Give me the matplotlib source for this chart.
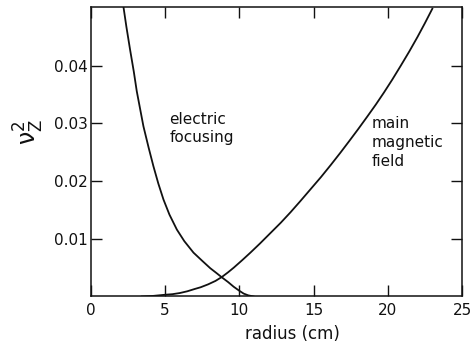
import matplotlib
matplotlib.use("Agg")
import matplotlib.pyplot as plt

# electric focusing contribution to nu_z^2 vs radius
r_elec = [2.2, 2.4, 2.65, 2.9, 3.1, 3.35, 3.55, 3.9, 4.22, 4.55, 4.9, 5.3,
          5.8, 6.3, 6.92, 7.5, 8.05, 8.45, 8.84, 9.25, 9.62, 10.0, 10.3,
          10.6, 10.97]
v_elec = [0.0503, 0.0468, 0.0428, 0.039, 0.0356, 0.0322, 0.0295, 0.0258,
          0.0226, 0.0196, 0.0168, 0.0142, 0.0116, 0.0096, 0.0076, 0.0062,
          0.0049, 0.0041, 0.0033, 0.0025, 0.0017, 0.001, 0.0005, 0.0002, 0.0]

# main magnetic field contribution
r_mag = [3.44, 4.2, 5.0, 5.5, 6.0, 6.5, 7.0, 7.4, 7.9, 8.4, 8.84, 9.25,
         9.63, 10.2, 10.75, 11.4, 12.1, 12.8, 13.45, 14.1, 14.8, 15.5, 16.16,
         16.8, 17.39, 18.0, 18.62, 19.2, 19.75, 20.3, 20.87, 21.45, 22.0,
         22.5, 23.0]
v_mag = [0.0, 0.0001, 0.0003, 0.0004, 0.0006, 0.0009, 0.0013, 0.0016, 0.0021,
         0.0027, 0.0034, 0.0042, 0.005, 0.0063, 0.0076, 0.0092, 0.011,
         0.0128, 0.0146, 0.0165, 0.0186, 0.0207, 0.0228, 0.0249, 0.0269,
         0.029, 0.0312, 0.0333, 0.0354, 0.0376, 0.04, 0.0425, 0.045, 0.0474,
         0.0499]

xticks = [0, 5, 10, 15, 20, 25]
yticks = [0.01, 0.02, 0.03, 0.04]

ink = "#111111"

fig = plt.figure(figsize=(4.72, 3.43), dpi=100)
ax = fig.add_axes([0.1922, 0.1356, 0.7867, 0.844])

ax.plot(r_elec, v_elec, color=ink, lw=1.3, solid_joinstyle="round")
ax.plot(r_mag, v_mag, color=ink, lw=1.3, solid_joinstyle="round")

ax.set_xlim(0, 25)
ax.set_ylim(0, 0.0502)
ax.set_xticks(xticks)
ax.set_xticklabels([str(t) for t in xticks])
ax.set_yticks(yticks)
ax.set_yticklabels(["0.01", "0.02", "0.03", "0.04"])
ax.tick_params(direction="in", length=8, width=1, top=True, right=True,
               labelsize=11, color=ink, labelcolor=ink)
ax.tick_params(axis="x", pad=5)
ax.tick_params(axis="y", pad=2)
for s in ax.spines.values():
    s.set_linewidth(1.1)
    s.set_color(ink)

ax.set_xlabel("radius (cm)", fontsize=12, color=ink)
ax.xaxis.set_label_coords(0.543, -0.1)

fig.text(29 / 472, 1 - 132 / 343, r"$\mathregular{\nu_Z^2}$", rotation=90,
         fontsize=17, ha="center", va="center", color=ink)

# baseline here is the last line of each label
ax.text(5.31, 0.0268, "electric\nfocusing", fontsize=11, va="baseline",
        ha="left", color=ink, linespacing=1.28)
ax.text(18.9, 0.0226, "main\nmagnetic\nfield", fontsize=11, va="baseline",
        ha="left", color=ink, linespacing=1.33)

fig.savefig("out.png", dpi=100)
